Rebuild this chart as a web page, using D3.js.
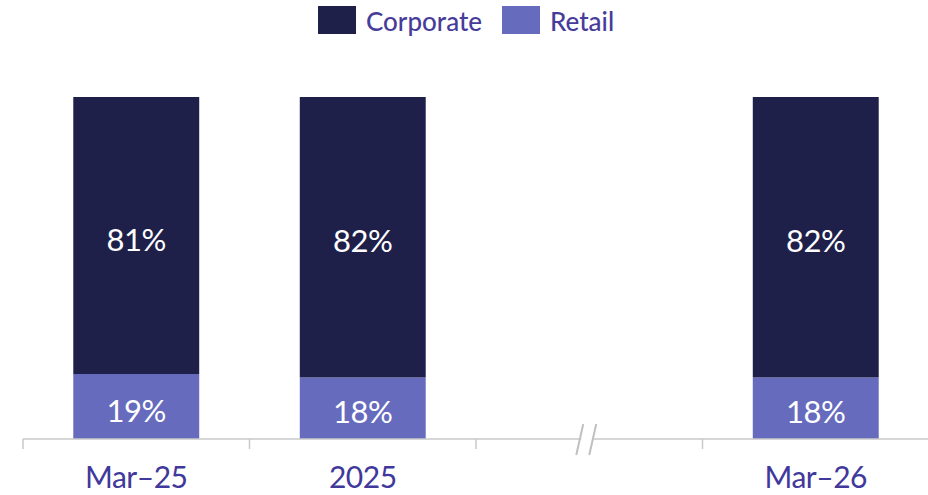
<!DOCTYPE html>
<html><head><meta charset="utf-8">
<script src="https://cdn.jsdelivr.net/npm/d3@7"></script>
<style>body{margin:0;background:#fff}svg{display:block}</style>
</head><body>
<script>
const categories = ["Mar–25", "2025", "", "Mar–26"];
const corporate = [81, 82, null, 82];
const retail = [19, 18, null, 18];
const seriesNames = ["Corporate", "Retail"];
const colors = ["#1f204a", "#666bbd"];

const W = 928, H = 495;
const svg = d3.select("body").append("svg").attr("width", W).attr("height", H);
const FONT = "Lato, 'Noto Sans', sans-serif";

const x = d3.scaleBand().domain(d3.range(categories.length)).range([23, 929])
  .paddingInner(0.444).paddingOuter(0.222);
const y = d3.scaleLinear().domain([0, 100]).range([439, 97]);

const rows = categories.map((c, i) => ({i, c, Corporate: corporate[i], Retail: retail[i]}))
  .filter(d => d.Corporate != null);
const stack = d3.stack().keys(["Retail", "Corporate"])(rows);

const g = svg.append("g");
stack.forEach(layer => {
  const col = colors[seriesNames.indexOf(layer.key)];
  g.selectAll(null).data(layer).enter().append("rect")
    .attr("x", d => x(d.data.i)).attr("width", x.bandwidth())
    .attr("y", d => y(d[1])).attr("height", d => y(d[0]) - y(d[1]))
    .attr("fill", col);
  g.selectAll(null).data(layer).enter().append("text")
    .attr("x", d => x(d.data.i) + x.bandwidth() / 2)
    .attr("y", d => (y(d[0]) + y(d[1])) / 2 + 3)
    .attr("text-anchor", "middle").attr("dominant-baseline", "central")
    .attr("fill", "#fff").attr("font-family", FONT).attr("font-size", 31).attr("font-weight", 400)
    .attr("letter-spacing", -0.5)
    .text(d => d.data[layer.key] + "%");
});

// axis
const axisY = y(0);
const step = x.step();
const off = (step - x.bandwidth()) / 2;
const axisColor = "#c8c8c8";
svg.append("line").attr("x1", 23).attr("x2", W).attr("y1", axisY).attr("y2", axisY)
  .attr("stroke", axisColor).attr("stroke-width", 1.5);
const bounds = categories.map((c, i) => x(i) - off);
svg.selectAll(null).data(bounds).enter().append("line")
  .attr("x1", d => d).attr("x2", d => d).attr("y1", axisY).attr("y2", axisY + 10)
  .attr("stroke", axisColor).attr("stroke-width", 1.5);
// break marks
const bx = x(2) + x.bandwidth() / 2;
svg.append("rect").attr("x", bx - 8).attr("y", axisY - 3).attr("width", 12).attr("height", 6).attr("fill", "#fff");
[-3, 10].forEach(dx => {
  svg.append("line").attr("x1", bx + dx - 7 + 4).attr("y1", axisY - 15)
    .attr("x2", bx + dx - 7 - 3).attr("y2", axisY + 16)
    .attr("stroke", "#c0c0c0").attr("stroke-width", 2);
});
// x labels
svg.selectAll(null).data(categories.map((c, i) => ({c, i}))).enter().append("text")
  .attr("x", d => x(d.i) + x.bandwidth() / 2).attr("y", 488)
  .attr("text-anchor", "middle").attr("fill", "#40389a")
  .attr("font-family", FONT).attr("font-size", 30).attr("letter-spacing", -0.5).text(d => d.c);

// legend
const leg = [{n: "Corporate", x: 318}, {n: "Retail", x: 502}];
leg.forEach((l, k) => {
  svg.append("rect").attr("x", l.x).attr("y", 6).attr("width", 38).attr("height", 28).attr("fill", colors[k]);
  svg.append("text").attr("x", l.x + 48).attr("y", 31).attr("fill", "#463c9a")
    .attr("font-family", FONT).attr("font-size", 26).attr("font-weight", 500).text(l.n);
});
</script>
</body></html>
